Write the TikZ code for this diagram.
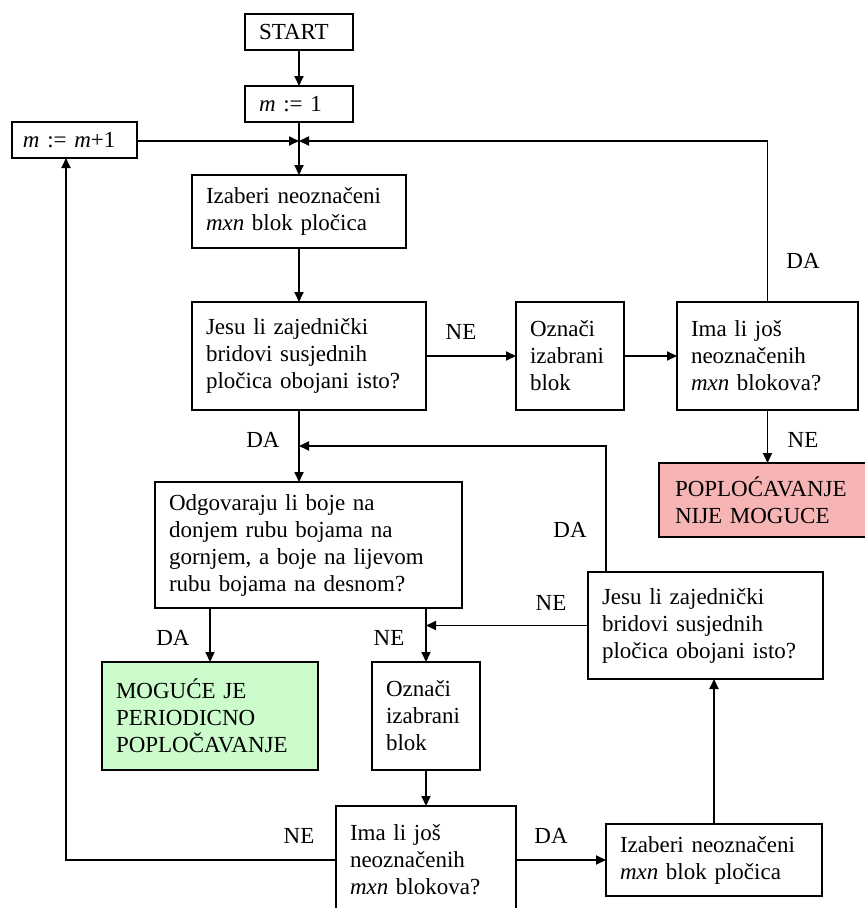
\documentclass[tikz,border=0pt]{standalone}
\usepackage{fontspec}
\setmainfont{Liberation Serif}
\usetikzlibrary{arrows.meta,calc}
\definecolor{redfill}{HTML}{F6B4B4}
\definecolor{greenfill}{HTML}{CCFCCC}
\begin{document}
\begin{tikzpicture}[x=1pt,y=1pt,
 box/.style={draw, line width=1.8pt, inner xsep=14pt, inner ysep=2pt, outer sep=0pt, anchor=north west, align=left, font=\fontsize{23}{27}\selectfont},
 lbl/.style={font=\fontsize{23}{27}\selectfont, inner sep=0pt},
 arr/.style={line width=1.8pt, -{Triangle[length=10pt,width=9pt]}},
 ln/.style={line width=1.8pt}]
\clip (0,0) rectangle (865,-908);
\fill[white] (0,0) rectangle (865,-908);

\node[box, text width=80pt, minimum height=36pt] (start) at (245,-14) {START};
\node[box, text width=80pt, minimum height=36pt] (m1) at (245,-86) {\textit{m} := 1};
\node[box, text width=103pt, minimum height=36pt, inner xsep=11pt] (mm1) at (12,-122) {\textit{m} := \textit{m}+1};
\node[box, text width=186pt, minimum height=73pt] (izab1) at (192,-175) {Izaberi neoznačeni\\\textit{mxn} blok pločica};
\node[box, text width=206pt, minimum height=108pt] (jesu1) at (192,-302) {Jesu li zajednički\\bridovi susjednih\\pločica obojani isto?};
\node[box, text width=80pt, minimum height=108pt] (ozn1) at (516,-302) {Označi\\izabrani\\blok};
\node[box, text width=153pt, minimum height=108pt] (ima1) at (677,-302) {Ima li još\\neoznačenih\\\textit{mxn} blokova?};
\node[box, fill=redfill, text width=193pt, minimum height=74pt, inner xsep=16pt] (red) at (659,-463) {POPLOĆAVANJE\\NIJE MOGUCE};
\node[box, text width=279pt, minimum height=126pt] (odg) at (155,-482) {Odgovaraju li boje na\\donjem rubu bojama na\\gornjem, a boje na lijevom\\rubu bojama na desnom?};
\node[box, fill=greenfill, text width=188pt, minimum height=108pt] (green) at (102,-662) {MOGUĆE JE\\PERIODICNO\\POPLOČAVANJE};
\node[box, text width=80pt, minimum height=108pt] (ozn2) at (372,-662) {Označi\\izabrani\\blok};
\node[box, text width=207pt, minimum height=107pt] (jesu2) at (588,-572) {Jesu li zajednički\\bridovi susjednih\\pločica obojani isto?};
\node[box, text width=152pt, minimum height=108pt] (ima2) at (336,-806) {Ima li još\\neoznačenih\\\textit{mxn} blokova?};
\node[box, text width=188pt, minimum height=72pt] (izab2) at (606,-824) {Izaberi neoznačeni\\\textit{mxn} blok pločica};

\coordinate (J) at ($(m1.south)+(0,-19)$);
\coordinate (K) at ($(izab1.south)+(0,-198)$);
\coordinate (j2top) at ($(jesu2.north west)+(18,0)$);
\coordinate (mmb) at ($(mm1.south west)+(54,0)$);

\draw[arr] (start) -- (m1);
\draw[arr] (m1.south) -- (izab1.north -| m1.south);
\draw[arr] (mm1.east |- J) -- (J);
\draw[arr] (ima1.north) |- (J);
\draw[arr] (izab1.south) -- (izab1.south |- jesu1.north);
\draw[arr] (jesu1.east) -- (ozn1.west);
\draw[arr] (ozn1.east) -- (ima1.west);
\draw[arr] (ima1.south) -- (ima1.south |- red.north);
\draw[arr] (jesu1.south -| izab1.south) -- (odg.north -| izab1.south);
\draw[arr] (j2top) |- (K);
\draw[arr] (odg.south -| green.north) -- (green.north);
\draw[arr] (odg.south -| ozn2.north) -- (ozn2.north);
\draw[arr] (jesu2.west) -- (jesu2.west -| ozn2.north);
\draw[arr] (ozn2.south) -- (ima2.north);
\draw[arr] (ima2.east) -- (izab2.west);
\draw[arr] (izab2.north) -- (izab2.north |- jesu2.south);
\draw[arr] (ima2.west) -| (mmb);

\node[lbl] (l1) at (803,-261) {DA};
\node[lbl] (l2) at (461,-332) {NE};
\node[lbl] (l3) at (803,-440) {NE};
\node[lbl] (l4) at (263,-440) {DA};
\node[lbl] (l5) at (570,-530) {DA};
\node[lbl] (l6) at (551,-603) {NE};
\node[lbl] (l7) at (173,-638) {DA};
\node[lbl] (l8) at (389,-638) {NE};
\node[lbl] (l9) at (299,-836) {NE};
\node[lbl] (l10) at (551,-836) {DA};
\end{tikzpicture}
\end{document}
